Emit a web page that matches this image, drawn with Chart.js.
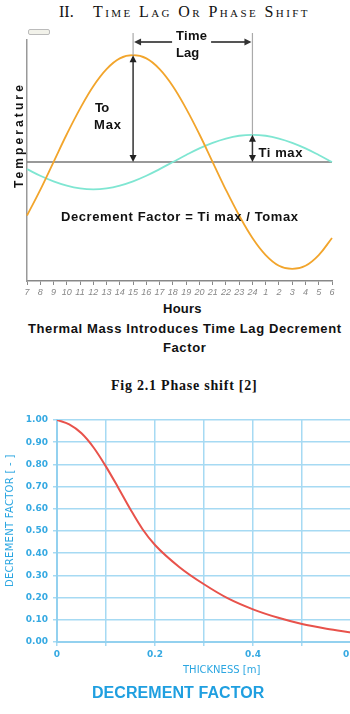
<!DOCTYPE html>
<html>
<head>
<meta charset="utf-8">
<script src="https://cdn.jsdelivr.net/npm/chart.js@4.4.0/dist/chart.umd.min.js"></script>
<style>
  html, body { margin: 0; padding: 0; background: #fff; }
  body { width: 350px; height: 714px; position: relative; overflow: hidden; }
  .txt { position: absolute; white-space: pre; line-height: 1; color: #111; }
  .serif { font-family: "Liberation Serif", "Times New Roman", serif; }
  .sans { font-family: "Liberation Sans", Arial, sans-serif; font-weight: bold; }
  .blue { font-family: "DejaVu Sans", sans-serif; color: #2ba6e1; }
  .rot { transform-origin: 0 0; transform: rotate(-90deg); }
  canvas { position: absolute; left: 0; }
</style>
</head>
<body>
<div class="txt serif" style="left:59px; top:4px; font-size:16px;">II.</div>
<div class="txt serif" style="left:93px; top:4px; font-size:16px; font-variant:small-caps;" data-w="214">Time Lag Or Phase Shift</div>

<canvas id="lagChart" width="350" height="300" style="top:0"></canvas>
<div class="txt sans rot" style="left:13px; top:188px; font-size:12px;" data-w="103">Temperature</div>
<div class="txt sans" style="left:163px; top:302px; font-size:13px;" data-w="39">Hours</div>
<div class="txt sans" style="left:28px; top:322px; font-size:13px;" data-w="313">Thermal Mass Introduces Time Lag Decrement</div>
<div class="txt sans" style="left:163px; top:341px; font-size:13px;" data-w="43">Factor</div>

<div class="txt serif" style="left:111px; top:379px; font-size:14px; font-weight:bold;" data-w="146">Fig 2.1 Phase shift [2]</div>

<canvas id="dfChart" width="400" height="314" style="top:400px"></canvas>
<div class="txt blue rot" style="left:5px; top:587px; font-size:10px;" data-w="132">DECREMENT FACTOR [ - ]</div>
<div class="txt blue" style="left:183px; top:665px; font-size:10px;" data-w="77">THICKNESS [m]</div>
<div class="txt" style="left:92px; top:685px; font-size:16px; font-family:'Liberation Sans',Arial,sans-serif; font-weight:bold; color:#1f9fe0;" data-w="172">DECREMENT FACTOR</div>

<script>
// top chart: hours of the day and the two temperature waves
const hours = ['7', '8', '9', '10', '11', '12', '13', '14', '15', '16', '17', '18',
               '19', '20', '21', '22', '23', '24', '1', '2', '3', '4', '5', '6'];
const outsideTemp = [-5.0, -2.6, 0, 2.6, 5.0, 7.1, 8.7, 9.7, 10, 9.7, 8.7, 7.1,
                     5.0, 2.6, 0, -2.6, -5.0, -7.1, -8.7, -9.7, -10, -9.7, -8.7, -7.1];
const insideTemp = [-0.66, -1.28, -1.8, -2.2, -2.46, -2.55, -2.46, -2.2, -1.8, -1.28, -0.66, 0,
                    0.66, 1.28, 1.8, 2.2, 2.46, 2.55, 2.46, 2.2, 1.8, 1.28, 0.66, 0];

// bottom chart: decrement factor against wall thickness
const thickness = [0, 0.025, 0.05, 0.075, 0.1, 0.125, 0.15, 0.175, 0.2, 0.25, 0.3, 0.35, 0.4, 0.45, 0.5, 0.55, 0.6];
const decrement = [1.00, 0.98, 0.94, 0.875, 0.79, 0.695, 0.597, 0.507, 0.437, 0.337, 0.26, 0.195, 0.147, 0.11, 0.081, 0.06, 0.043];

// stretch html labels to the width they have in the picture
document.querySelectorAll('[data-w]').forEach(function(el) {
    const n = el.textContent.length;
    const sp = (parseFloat(el.dataset.w) - el.offsetWidth) / (n - 1);
    el.style.letterSpacing = sp + 'px';
});

function spacedText(ctx, str, left, base, width) {
    ctx.letterSpacing = '0px';
    const w = ctx.measureText(str).width;
    ctx.letterSpacing = ((width - w) / (str.length - 1)) + 'px';
    ctx.fillText(str, left, base);
    ctx.letterSpacing = '0px';
}

function arrowHead(ctx, tx, ty, dx, dy) {
    const len = 7, half = 3.5;
    ctx.beginPath();
    ctx.moveTo(tx, ty);
    ctx.lineTo(tx - dx * len - dy * half, ty - dy * len + dx * half);
    ctx.lineTo(tx - dx * len + dy * half, ty - dy * len - dx * half);
    ctx.closePath();
    ctx.fill();
}

// baseline, guide lines, arrows and notes of the time lag sketch
const lagMarks = {
    id: 'lagMarks',
    beforeDatasetsDraw(chart) {
        const { ctx, chartArea, scales: { y } } = chart;
        const y0 = y.getPixelForValue(0);
        ctx.save();
        ctx.strokeStyle = '#777';
        ctx.lineWidth = 1.5;
        ctx.beginPath();
        ctx.moveTo(chartArea.left, y0);
        ctx.lineTo(chartArea.right, y0);
        ctx.stroke();
        // small box top left
        ctx.fillStyle = '#f2f2ea';
        ctx.strokeStyle = '#bbb';
        ctx.lineWidth = 1;
        ctx.beginPath();
        ctx.roundRect(chartArea.left + 1.5, chartArea.top - 10.5, 21, 5, 1.5);
        ctx.fill();
        ctx.stroke();
        ctx.restore();
    },
    afterDatasetsDraw(chart) {
        const { ctx, chartArea, scales: { x, y } } = chart;
        const iO = hours.indexOf('15'), iI = hours.indexOf('24');
        const x1 = x.getPixelForValue(iO), x2 = x.getPixelForValue(iI);
        const y0 = y.getPixelForValue(0);
        const yO = y.getPixelForValue(outsideTemp[iO]);
        const yI = y.getPixelForValue(insideTemp[iI]);
        const topY = chartArea.top - 7;
        const lagY = chartArea.top + 2;
        ctx.save();
        // light guide lines above the peaks
        ctx.strokeStyle = '#aaa';
        ctx.lineWidth = 1.2;
        ctx.beginPath();
        ctx.moveTo(x1, topY); ctx.lineTo(x1, yO);
        ctx.moveTo(x2, topY); ctx.lineTo(x2, yI);
        ctx.stroke();
        // amplitude arrows
        ctx.strokeStyle = '#333';
        ctx.fillStyle = '#222';
        ctx.lineWidth = 1.5;
        ctx.beginPath();
        ctx.moveTo(x1, yO + 3); ctx.lineTo(x1, y0 - 3);
        ctx.moveTo(x2, yI + 3); ctx.lineTo(x2, y0 - 3);
        ctx.stroke();
        arrowHead(ctx, x1, yO, 0, -1);
        arrowHead(ctx, x1, y0, 0, 1);
        arrowHead(ctx, x2, yI, 0, -1);
        arrowHead(ctx, x2, y0, 0, 1);
        // time lag arrow
        ctx.strokeStyle = '#555';
        ctx.fillStyle = '#333';
        ctx.lineWidth = 2;
        ctx.beginPath();
        ctx.moveTo(x1 + 3, lagY); ctx.lineTo(x1 + 39, lagY);
        ctx.moveTo(x1 + 78, lagY); ctx.lineTo(x2 - 3, lagY);
        ctx.stroke();
        arrowHead(ctx, x1 + 1, lagY, -1, 0);
        arrowHead(ctx, x2 - 1, lagY, 1, 0);
        // notes
        ctx.fillStyle = '#111';
        ctx.font = 'bold 13px "Liberation Sans", Arial, sans-serif';
        ctx.textBaseline = 'alphabetic';
        ctx.textAlign = 'left';
        spacedText(ctx, 'Time', x1 + 43, 40, 31);
        spacedText(ctx, 'Lag', x1 + 43, 57, 23);
        spacedText(ctx, 'To', x1 - 38, 112, 14);
        spacedText(ctx, 'Max', x1 - 39, 129, 27);
        spacedText(ctx, 'Ti max', x2 + 6, y0 - 5, 44);
        spacedText(ctx, 'Decrement Factor = Ti max / Tomax', 61, 221, 237);
        ctx.restore();
    }
};

new Chart(document.getElementById('lagChart'), {
    type: 'line',
    data: {
        labels: hours,
        datasets: [
            { data: outsideTemp, borderColor: '#f2a52c', borderWidth: 1.8, pointRadius: 0, tension: 0.4, fill: false },
            { data: insideTemp, borderColor: '#7fe6d2', borderWidth: 1.8, pointRadius: 0, tension: 0.4, fill: false }
        ]
    },
    options: {
        responsive: false,
        animation: false,
        layout: { padding: { left: 27, right: 18, top: 40, bottom: 0 } },
        plugins: { legend: { display: false }, tooltip: { enabled: false } },
        scales: {
            x: {
                grid: { display: true, drawOnChartArea: false, drawTicks: true, tickLength: 4, color: '#888' },
                border: { color: '#888', width: 1.5 },
                ticks: { autoSkip: false, maxRotation: 0, padding: 2, color: '#888',
                         font: { family: '"Liberation Sans", Arial, sans-serif', size: 9, style: 'italic' } },
                afterFit: function(s) { s.height = 19; }
            },
            y: {
                min: -11.13, max: 11.42,
                grid: { display: false },
                border: { color: '#999', width: 1.5 },
                ticks: { display: false },
                afterFit: function(s) { s.width = 0; }
            }
        }
    },
    plugins: [lagMarks]
});

const gridBlue = '#a6daf3';
const labelBlue = '#35a9e2';

new Chart(document.getElementById('dfChart'), {
    type: 'scatter',
    data: {
        datasets: [{
            data: thickness.map(function(t, i) { return { x: t, y: decrement[i] }; }),
            showLine: true,
            borderColor: '#e8524b',
            borderWidth: 2,
            pointRadius: 0,
            cubicInterpolationMode: 'monotone'
        }]
    },
    options: {
        responsive: false,
        animation: false,
        layout: { padding: { left: 0, right: 49, top: 20, bottom: 0 } },
        plugins: { legend: { display: false }, tooltip: { enabled: false } },
        scales: {
            x: {
                type: 'linear', min: 0, max: 0.6,
                grid: { color: gridBlue, lineWidth: 1.5, tickLength: 4 },
                border: { color: '#93d1ef', width: 2 },
                ticks: {
                    stepSize: 0.1, padding: 3, color: labelBlue, maxRotation: 0,
                    font: { family: '"DejaVu Sans", sans-serif', size: 9, weight: 'bold' },
                    callback: function(v) {
                        const k = Math.round(v * 10);
                        return k % 2 === 0 ? String(k / 10) : '';
                    }
                },
                afterFit: function(s) { s.height = 72; }
            },
            y: {
                min: 0, max: 1,
                grid: { color: gridBlue, lineWidth: 1.5, tickLength: 4 },
                border: { color: '#93d1ef', width: 2 },
                ticks: {
                    stepSize: 0.1, padding: 5, color: labelBlue,
                    font: { family: '"DejaVu Sans", sans-serif', size: 9, weight: 'bold' },
                    callback: function(v) { return v.toFixed(2); }
                },
                afterFit: function(s) { s.width = 57; }
            }
        }
    }
});
</script>
</body>
</html>
